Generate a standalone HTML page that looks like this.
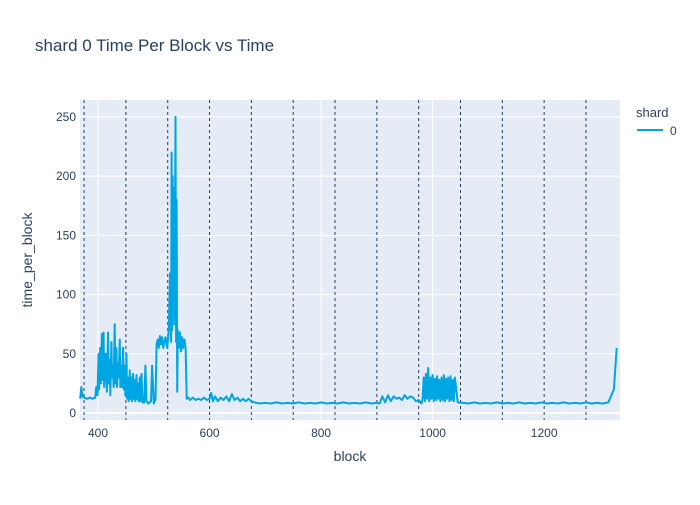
<!DOCTYPE html>
<html><head><meta charset="utf-8"><style>
body{margin:0;background:#fff;font-family:"Liberation Sans",sans-serif;}
svg text{font-family:"Liberation Sans",sans-serif;fill:#2a3f5f;}
</style></head><body>
<svg id="chart" width="700" height="500">
<text x="35" y="51" font-size="17">shard 0 Time Per Block vs Time</text>
<rect x="80" y="100" width="540" height="320" fill="#e5ecf6"/>
<g id="grid"></g><g id="vlines"></g><g id="series"></g><g id="axes"></g>
<text x="350" y="461" font-size="14" text-anchor="middle">block</text>
<text transform="translate(32,260) rotate(-90)" font-size="14" text-anchor="middle">time_per_block</text>
<text x="636" y="117" font-size="13">shard</text>
<g>
<line x1="637" y1="130" x2="663" y2="130" stroke="#00a5e3" stroke-width="2"/>
<text x="670" y="135" font-size="12">0</text></g>
</svg>
<script>
const xTicks=[400,600,800,1000,1200];
const yTicks=[0,50,100,150,200,250];
const markers=[375,450,525,600,675,750,825,900,975,1050,1125,1200,1275];
const blocks=[368,370,372,375,380,385,390,395,397,399,401,402,404,405,407,408,410,411,413,414,416,418,419,421,422,424,425,427,428,430,431,433,434,436,437,439,440,442,443,445,446,448,449,451,452,454,455,457,458,460,461,463,464,466,467,469,470,472,473,475,476,478,480,483,485,487,490,495,497,500,503,505,507,509,511,513,515,517,519,521,524,527,529,531,532,533,534,535,536,537,538,539,540,541,542,543,545,547,549,551,553,555,557,559,562,565,570,575,580,585,590,595,600,603,606,610,615,620,625,630,635,640,645,650,655,660,665,670,675,680,690,700,710,720,730,740,750,760,770,780,790,800,810,820,830,840,850,860,870,880,890,900,905,910,915,920,925,930,935,940,945,950,955,960,965,970,975,978,980,982,984,986,988,990,992,994,996,998,1000,1002,1004,1006,1008,1010,1012,1014,1016,1018,1020,1022,1024,1026,1028,1030,1032,1034,1036,1038,1040,1045,1055,1065,1075,1085,1095,1105,1115,1125,1135,1145,1155,1165,1175,1185,1195,1205,1215,1225,1235,1245,1255,1265,1275,1285,1295,1305,1315,1325,1330,1333,1336];
const values=[12,22,14,13,12,13,12,13,22,15,50,20,55,25,67,28,68,22,35,50,18,68,25,45,15,60,30,40,22,75,25,55,22,42,30,62,22,40,22,55,20,40,15,50,12,30,10,36,12,30,10,33,12,28,10,32,12,25,10,30,10,33,9,9,40,10,8,10,40,8,12,58,62,55,65,58,64,55,60,64,55,70,118,60,220,70,200,100,190,75,150,250,60,180,18,70,55,68,52,64,55,62,55,12,13,11,13,11,12,11,13,11,12,17,10,14,10,13,11,14,10,16,11,13,10,12,10,12,10,9,8,8.5,8,9,8,8.5,8,9,8,8.5,8,9,8,8.5,8,9,8,8.5,8,9,8,8.5,8,14,9,15,10,14,12,13,11,15,12,14,13,10,11,9,8,12,30,10,33,12,38,10,30,12,32,10,29,11,31,12,28,10,30,11,32,10,29,12,30,10,31,11,28,10,30,9,8.5,8,9,8,8.5,8,9,8,8.5,8,9,8,8.5,8,9,8,8.5,8,9,8,8.5,8,9,8,8.5,8,9,20,55];
const NS="http://www.w3.org/2000/svg";
const X0=80,X1=620,Y0=100,Y1=420,XMIN=367.7,XMAX=1336,YMIN=-5.9,YMAX=264.3;
function xs(v){return X0+(v-XMIN)/(XMAX-XMIN)*(X1-X0);}
function ys(v){return Y1-(v-YMIN)/(YMAX-YMIN)*(Y1-Y0);}
function mk(t,a,p){const e=document.createElementNS(NS,t);for(const k in a)e.setAttribute(k,a[k]);p.appendChild(e);return e;}
const grid=document.getElementById('grid'),axes=document.getElementById('axes');
yTicks.forEach(v=>{
 const l=mk('line',{x1:X0,x2:X1,y1:ys(v),y2:ys(v),stroke:'#fff','stroke-width':v===0?2:1},grid);
 
 
 const t=mk('text',{x:X0-4,y:ys(v)+4,'font-size':12,'text-anchor':'end'},axes);t.textContent=v;
 
 
});
xTicks.forEach(v=>{
 const l=mk('line',{x1:xs(v),x2:xs(v),y1:Y0,y2:Y1,stroke:'#fff','stroke-width':1},grid);
 
 
 const t=mk('text',{x:xs(v),y:Y1+17,'font-size':12,'text-anchor':'middle'},axes);t.textContent=v;
 
 
});
const vl=document.getElementById('vlines');
markers.forEach(v=>{
 const l=mk('line',{x1:xs(v),x2:xs(v),y1:Y0,y2:Y1,stroke:'#2a3f5f','stroke-width':1,'stroke-dasharray':'3,3'},vl);
 
 
});
const d=blocks.map((b,i)=>(i?'L':'M')+xs(b).toFixed(1)+','+ys(values[i]).toFixed(1)).join('');
const p=mk('path',{d:d,fill:'none',stroke:'#00a5e3','stroke-width':2,'stroke-linejoin':'round'},document.getElementById('series'));


</script>
</body></html>
